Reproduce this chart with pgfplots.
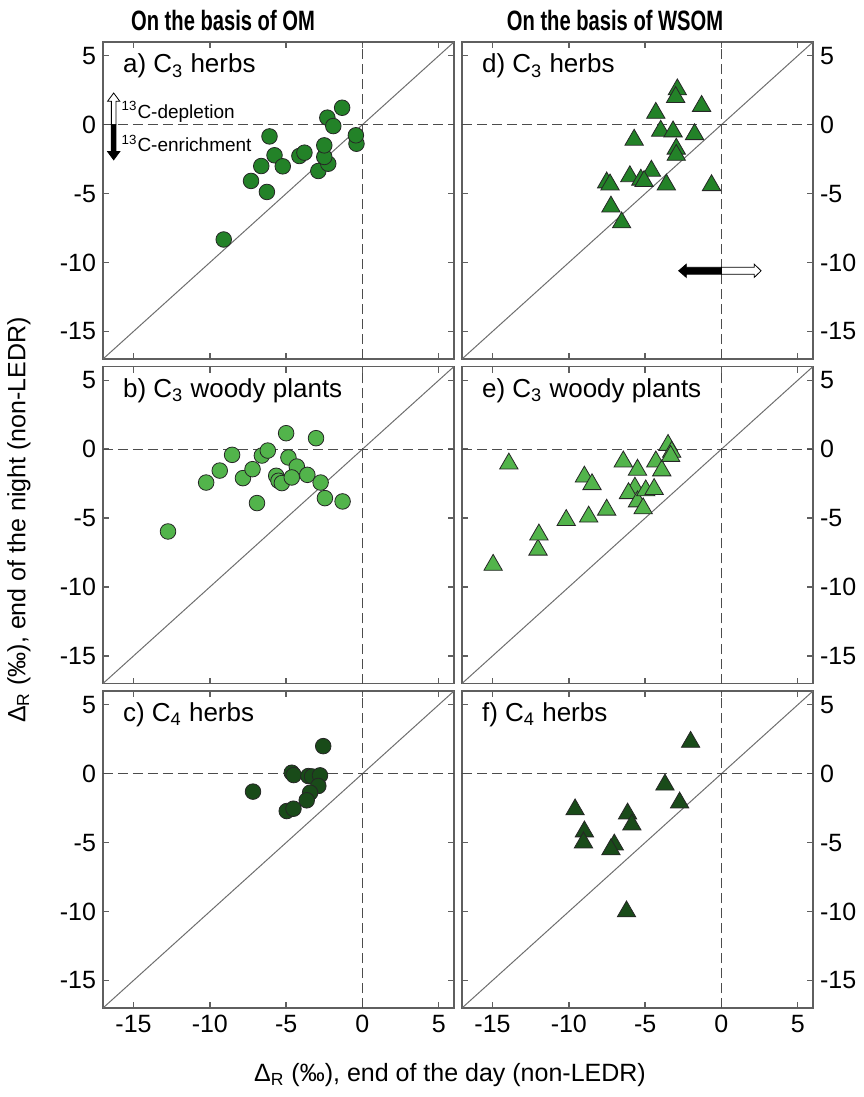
\documentclass[border=0pt]{standalone}
\usepackage{fontspec}
\setmainfont{Liberation Sans}
\newfontfamily\titlefont[FakeStretch=0.72]{Liberation Sans}
\usepackage{pgfplots}
\pgfplotsset{compat=1.18}

\definecolor{cA}{RGB}{35,130,40}
\definecolor{cB}{RGB}{82,180,75}
\definecolor{cC}{RGB}{25,75,25}
\definecolor{frame}{RGB}{95,95,95}
\definecolor{ref}{RGB}{110,110,110}

\pgfplotsset{
  panel/.style={
    scale only axis, width=175.5pt, height=158.5pt, anchor=north west,
    xmin=-17, xmax=6, ymin=-17, ymax=6,
    xtick={-15,-10,-5,0,5}, ytick={-15,-10,-5,0,5},
    tick align=inside, major tick length=3pt,
    axis line style={draw=frame, line width=0.8pt},
    every tick/.style={draw=frame, line width=0.7pt},
    tick label style={font=\fontsize{12.5}{14}\selectfont},
    /pgf/number format/assume math mode=true,
  },
  circ/.style={only marks, mark=*, mark size=3.9pt,
    mark options={fill=#1, draw=black!85, line width=0.4pt}},
  tri/.style={only marks, mark=triangle*, mark size=5.3pt,
    mark options={fill=#1, draw=black!85, line width=0.4pt}},
  refl/.style={draw=ref, line width=0.5pt},
  dash/.style={draw=black!70, line width=0.6pt, dash pattern=on 5pt off 2.5pt},
}
% lines common to every panel
\newcommand{\reflines}{%
  \addplot[refl] coordinates {(-17,-17) (6,6)};
  \addplot[dash] coordinates {(-17,0) (6,0)};
  \addplot[dash] coordinates {(0,-17) (0,6)};
}
\newcommand{\plab}[1]{\node[anchor=west, font=\fontsize{13}{15}\selectfont,
  xshift=6.5pt, yshift=-12pt] at (rel axis cs:0,1) {#1};}

\begin{document}
\begin{tikzpicture}
% a) OM, C3 herbs
\begin{axis}[panel, at={(0pt,0pt)}, xticklabels={}]
\reflines
\addplot[circ=cA] coordinates {
(-9.09,-8.33) (-7.30,-4.08) (-6.26,-4.88) (-6.63,-3.00) (-6.09,-0.85)
(-5.76,-2.22) (-5.22,-3.02) (-4.13,-2.27) (-3.80,-2.03) (-2.89,-3.36)
(-2.24,-2.83) (-2.50,-2.34) (-2.50,-1.50) (-2.30,0.51) (-1.91,-0.10)
(-1.33,1.23) (-0.39,-1.38) (-0.43,-0.77)
};
\coordinate (tl) at (rel axis cs:0,1);
\plab{a) C\textsubscript{3} herbs}
\filldraw[fill=white, draw=black, line width=0.4pt]
  (axis cs:-16.45,0) -- (axis cs:-16.45,1.7) -- (axis cs:-16.7,1.7) -- (axis cs:-16.3,2.3)
  -- (axis cs:-15.9,1.7) -- (axis cs:-16.15,1.7) -- (axis cs:-16.15,0) -- cycle;
\filldraw[fill=black, draw=black, line width=0.4pt]
  (axis cs:-16.45,0) -- (axis cs:-16.45,-1.95) -- (axis cs:-16.7,-1.95) -- (axis cs:-16.3,-2.55)
  -- (axis cs:-15.9,-1.95) -- (axis cs:-16.15,-1.95) -- (axis cs:-16.15,0) -- cycle;
\node[anchor=west, inner sep=0pt, font=\fontsize{9.5}{11}\selectfont] at (axis cs:-15.8,0.95) {\textsuperscript{13}C-depletion};
\node[anchor=west, inner sep=0pt, font=\fontsize{9.5}{11}\selectfont] at (axis cs:-15.8,-1.35) {\textsuperscript{13}C-enrichment};
\end{axis}

% d) WSOM, C3 herbs
\begin{axis}[panel, at={(179.5pt,0pt)}, xticklabels={}, yticklabel pos=right]
\reflines
\addplot[tri=cA] coordinates {
(-2.89,2.55) (-3.00,2.00) (-1.30,1.35) (-4.30,0.85) (-3.98,-0.45)
(-3.17,-0.50) (-1.76,-0.70) (-5.72,-1.10) (-2.96,-1.75) (-2.96,-2.20)
(-4.59,-3.35) (-6.00,-3.75) (-5.28,-4.00) (-5.07,-4.10) (-3.61,-4.35)
(-0.65,-4.40) (-7.52,-4.20) (-7.30,-4.35) (-7.24,-5.95) (-6.54,-7.10)
};
\plab{d) C\textsubscript{3} herbs}
\filldraw[fill=black, draw=black, line width=0.4pt]
  (axis cs:0,-10.35) -- (axis cs:-2.3,-10.35) -- (axis cs:-2.3,-10.12) -- (axis cs:-2.8,-10.6)
  -- (axis cs:-2.3,-11.08) -- (axis cs:-2.3,-10.85) -- (axis cs:0,-10.85) -- cycle;
\filldraw[fill=white, draw=black, line width=0.4pt]
  (axis cs:0,-10.35) -- (axis cs:2.15,-10.35) -- (axis cs:2.15,-10.12) -- (axis cs:2.6,-10.6)
  -- (axis cs:2.15,-11.08) -- (axis cs:2.15,-10.85) -- (axis cs:0,-10.85) -- cycle;
\end{axis}

% b) OM, C3 woody plants
\begin{axis}[panel, at={(0pt,-162.25pt)}, xticklabels={}]
\reflines
\addplot[circ=cB] coordinates {
(-12.74,-5.97) (-10.24,-2.42) (-9.35,-1.55) (-8.54,-0.41) (-7.83,-2.10)
(-7.20,-1.45) (-6.91,-3.91) (-6.59,-0.46) (-6.20,-0.10) (-5.65,-1.93)
(-5.50,-2.29) (-5.28,-2.46) (-5.00,1.16) (-4.85,-0.60) (-4.30,-1.26)
(-4.63,-2.05) (-3.61,-1.86) (-3.04,0.80) (-2.74,-2.42) (-2.46,-3.55)
(-1.30,-3.79)
};
\plab{b) C\textsubscript{3} woody plants}
\end{axis}

% e) WSOM, C3 woody plants
\begin{axis}[panel, at={(179.5pt,-162.25pt)}, xticklabels={}, yticklabel pos=right]
\reflines
\addplot[tri=cB] coordinates {
(-14.96,-8.40) (-13.93,-1.05) (-12.02,-7.30) (-11.96,-6.20) (-10.17,-5.15)
(-8.98,-2.00) (-8.48,-2.55) (-8.70,-4.90) (-7.52,-4.40) (-6.43,-0.90)
(-5.50,-1.50) (-5.67,-2.80) (-6.09,-3.20) (-5.50,-3.80) (-5.13,-4.30)
(-4.96,-3.00) (-4.41,-2.90) (-4.30,-0.90) (-3.91,-1.55) (-3.50,0.30)
(-3.26,-0.20) (-3.33,-0.50)
};
\plab{e) C\textsubscript{3} woody plants}
\end{axis}

% c) OM, C4 herbs
\begin{axis}[panel, at={(0pt,-324.5pt)}]
\reflines
\addplot[circ=cC] coordinates {
(-7.17,-1.30) (-2.57,2.00) (-4.63,0.07) (-4.50,-0.10) (-3.54,-0.17)
(-3.30,-0.20) (-2.78,-0.12) (-2.89,-0.89) (-3.43,-1.38) (-3.65,-1.93)
(-4.96,-2.71) (-4.52,-2.54)
};
\plab{c) C\textsubscript{4} herbs}
\end{axis}

% f) WSOM, C4 herbs
\begin{axis}[panel, at={(179.5pt,-324.5pt)}, yticklabel pos=right]
\reflines
\addplot[tri=cC] coordinates {
(-2.02,2.30) (-3.70,-0.80) (-2.74,-2.10) (-9.59,-2.60) (-6.15,-2.90)
(-5.87,-3.70) (-8.98,-4.20) (-9.04,-5.00) (-7.02,-5.15) (-7.24,-5.50)
(-6.22,-10.00)
};
\plab{f) C\textsubscript{4} herbs}
\end{axis}

% column titles and axis labels
\node[font=\titlefont\bfseries\fontsize{14}{16}\selectfont] at ([shift={(60pt,11pt)}]tl) {On the basis of OM};
\node[font=\titlefont\bfseries\fontsize{14}{16}\selectfont] at ([shift={(256pt,11pt)}]tl) {On the basis of WSOM};
\node[rotate=90, font=\fontsize{12.5}{14}\selectfont] at ([shift={(-42pt,-239pt)}]tl) {Δ\textsubscript{R} (‰), end of the night (non-LEDR)};
\node[font=\fontsize{12.5}{14}\selectfont] at ([shift={(173.5pt,-516.5pt)}]tl) {Δ\textsubscript{R} (‰), end of the day (non-LEDR)};

\pgfresetboundingbox
\path[use as bounding box] ([shift={(-51.5pt,21pt)}]tl) rectangle ([shift={(380pt,-527.5pt)}]tl);
\end{tikzpicture}
\end{document}
